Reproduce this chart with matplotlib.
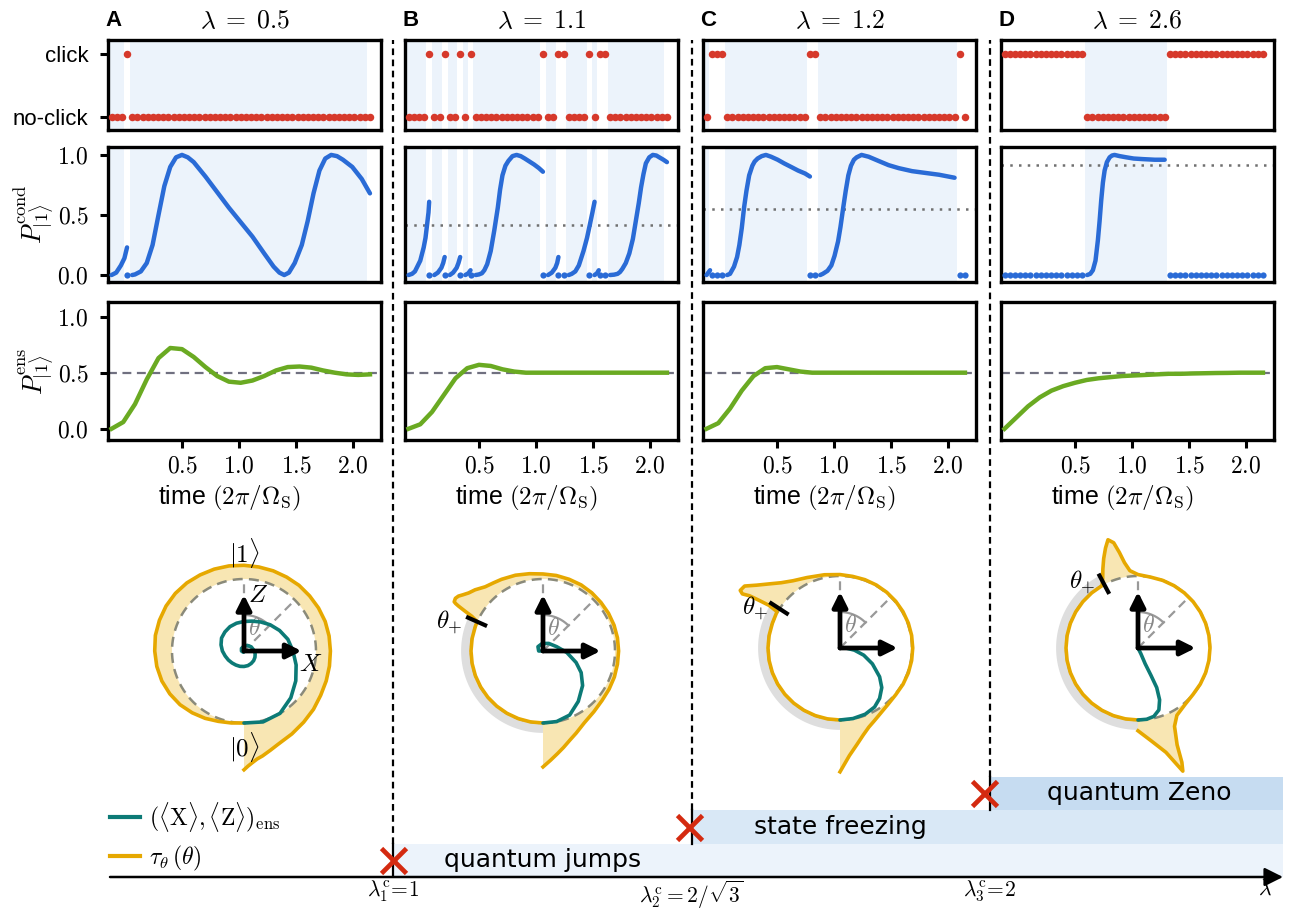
import matplotlib
matplotlib.use("Agg")
import matplotlib.pyplot as plt
import numpy as np

plt.rcParams["mathtext.fontset"] = "cm"
plt.rcParams["font.family"] = ["Liberation Sans", "DejaVu Sans"]

W, H = 1293, 909

# ---------------- data ----------------
letters = ["A", "B", "C", "D"]
lam_titles = [r"$\lambda\;=\;0.5$", r"$\lambda\;=\;1.1$", r"$\lambda\;=\;1.2$",
              r"$\lambda\;=\;2.6$"]

# measurement record: time of the first step, step length, number of steps
t_start = -0.118
dt = 0.04535
n_steps = 51

# indices of the time steps with a click
clicks_A = [3]
clicks_B = [4, 7, 10, 12, 26, 29, 30, 35, 37, 38]
clicks_C = [1, 2, 3, 20, 21, 49]
click_runs_D = [(0, 15), (32, 50)]

# conditional probability, one (t, p) list per no-click stretch
cond_A = [
    ([-0.118, -0.077, -0.036, -0.005, 0.018], [0.0, 0.02, 0.08, 0.14, 0.23]),
    ([0.063, 0.088, 0.139, 0.191, 0.242, 0.294, 0.345, 0.397, 0.448, 0.5, 0.551, 0.603,
      0.706, 0.809, 0.912, 1.015, 1.118, 1.221, 1.304, 1.355, 1.397, 1.438, 1.489, 1.551,
      1.603, 1.654, 1.706, 1.757, 1.809, 1.86, 1.912, 1.994, 2.077, 2.149],
     [0.0, 0.005, 0.03, 0.1, 0.25, 0.5, 0.74, 0.9, 0.98, 1.0, 0.98, 0.94, 0.82, 0.69,
      0.56, 0.44, 0.32, 0.18, 0.07, 0.02, 0.0, 0.02, 0.1, 0.25, 0.45, 0.68, 0.87, 0.97,
      1.0, 0.99, 0.96, 0.9, 0.8, 0.68]),
]
cond_B = [
    ([-0.118, -0.087, -0.062, -0.041, -0.015, 0.015, 0.031, 0.046, 0.057, 0.063],
     [0.0, 0.01, 0.03, 0.07, 0.12, 0.23, 0.31, 0.43, 0.52, 0.61]),
    ([0.108, 0.139, 0.17, 0.186, 0.199], [0.0, 0.02, 0.06, 0.1, 0.15]),
    ([0.244, 0.273, 0.304, 0.32, 0.335], [0.0, 0.02, 0.06, 0.1, 0.15]),
    ([0.38, 0.407, 0.426], [0.0, 0.015, 0.04]),
    ([0.471, 0.5, 0.526, 0.547, 0.572, 0.603, 0.634, 0.665, 0.685, 0.706, 0.732, 0.758,
      0.794, 0.83, 0.866, 0.902, 0.943, 0.984, 1.026, 1.061],
     [0.0, 0.005, 0.015, 0.04, 0.09, 0.2, 0.37, 0.56, 0.71, 0.83, 0.91, 0.95, 0.99, 1.0,
      0.99, 0.97, 0.945, 0.92, 0.89, 0.86]),
    ([1.106, 1.139, 1.17, 1.186, 1.197], [0.0, 0.02, 0.06, 0.1, 0.15]),
    ([1.287, 1.314, 1.345, 1.376, 1.417, 1.448, 1.475, 1.495, 1.514],
     [0.0, 0.01, 0.03, 0.08, 0.2, 0.31, 0.43, 0.52, 0.61]),
    ([1.514, 1.536, 1.551], [0.0, 0.015, 0.04]),
    ([1.65, 1.685, 1.716, 1.737, 1.757, 1.788, 1.819, 1.85, 1.876, 1.902, 1.922, 1.943,
      1.964, 1.994, 2.025, 2.056, 2.082, 2.118, 2.149],
     [0.0, 0.003, 0.01, 0.025, 0.05, 0.1, 0.18, 0.3, 0.45, 0.6, 0.73, 0.84, 0.93, 0.98,
      1.0, 0.995, 0.98, 0.96, 0.94]),
]
cond_C = [
    ([-0.118, -0.087], [0.0, 0.04]),
    ([0.063, 0.088, 0.123, 0.15, 0.17, 0.191, 0.211, 0.232, 0.256, 0.284, 0.304, 0.33,
      0.366, 0.403, 0.448, 0.506, 0.562, 0.624, 0.685, 0.747, 0.789],
     [0.0, 0.01, 0.07, 0.15, 0.25, 0.39, 0.56, 0.7, 0.83, 0.91, 0.945, 0.97, 0.99, 1.0,
      0.985, 0.96, 0.93, 0.9, 0.87, 0.845, 0.82]),
    ([0.879, 0.902, 0.943, 0.977, 1.005, 1.036, 1.057, 1.081, 1.103, 1.126, 1.149, 1.175,
      1.199, 1.242, 1.304, 1.391, 1.479, 1.568, 1.685, 1.803, 1.922, 2.058],
     [0.0, 0.01, 0.035, 0.08, 0.16, 0.28, 0.4, 0.56, 0.7, 0.83, 0.91, 0.96, 0.98, 1.0,
      0.985, 0.95, 0.915, 0.89, 0.865, 0.85, 0.835, 0.81]),
    ([2.149], [0.0]),
]
cond_D = [
    ([0.607, 0.634, 0.657, 0.68, 0.701, 0.716, 0.73, 0.745, 0.76, 0.78, 0.804, 0.825,
      0.847, 0.892, 0.951, 1.015, 1.098, 1.201, 1.287],
     [0.0, 0.01, 0.04, 0.12, 0.29, 0.45, 0.62, 0.77, 0.87, 0.94, 0.98, 0.995, 1.0, 0.99,
      0.98, 0.97, 0.965, 0.96, 0.96]),
]
cond_level = [None, 0.42, 0.55, 0.92]

# ensemble probability
ens_t = [-0.118, -0.015, 0.088, 0.191, 0.294, 0.397, 0.5, 0.603, 0.706, 0.809, 0.912,
         1.015, 1.118, 1.221, 1.325, 1.428, 1.531, 1.634, 1.737, 1.84, 1.943, 2.046, 2.149]
ens_A = [0.0, 0.06, 0.22, 0.44, 0.63, 0.72, 0.71, 0.64, 0.55, 0.47, 0.42, 0.41, 0.43,
         0.47, 0.52, 0.55, 0.555, 0.545, 0.52, 0.5, 0.485, 0.48, 0.485]
ens_B = [0.0, 0.04, 0.15, 0.3, 0.45, 0.54, 0.57, 0.56, 0.53, 0.51, 0.5, 0.5, 0.5, 0.5,
         0.5, 0.5, 0.5, 0.5, 0.5, 0.5, 0.5, 0.5, 0.5]
ens_C = [0.0, 0.05, 0.18, 0.34, 0.47, 0.54, 0.55, 0.53, 0.51, 0.5, 0.5, 0.5, 0.5, 0.5,
         0.5, 0.5, 0.5, 0.5, 0.5, 0.5, 0.5, 0.5, 0.5]
ens_D = [0.0, 0.1, 0.2, 0.28, 0.34, 0.38, 0.41, 0.435, 0.45, 0.46, 0.47, 0.475, 0.48,
         0.485, 0.49, 0.49, 0.493, 0.495, 0.497, 0.498, 0.5, 0.5, 0.5]

# Bloch diagrams: tau_theta curve as (angle from Z in degrees, radius)
tau_A = ([-180, -170, -160, -150, -140, -130, -120, -110, -100, -90, -80, -70, -60, -50,
          -40, -30, -20, -10, 0, 10, 20, 30, 40, 50, 60, 70, 80, 90, 100, 110, 120, 130,
          140, 150, 160, 165, 170, 173, 176, 178, 180],
         [1.0, 1.015, 1.04, 1.08, 1.12, 1.16, 1.19, 1.215, 1.23, 1.24, 1.25, 1.25, 1.25,
          1.245, 1.235, 1.22, 1.21, 1.2, 1.19, 1.185, 1.185, 1.185, 1.19, 1.19, 1.195, 1.2,
          1.2, 1.2, 1.205, 1.215, 1.23, 1.26, 1.29, 1.33, 1.38, 1.425, 1.48, 1.51, 1.56,
          1.6, 1.65])
tau_B = ([-180, -170, -160, -150, -140, -130, -120, -110, -100, -90, -80, -70, -66, -64,
          -63, -62, -61.5, -61, -59, -57, -55, -52, -48, -42, -36, -30, -20, -10, 0, 10,
          20, 30, 40, 50, 60, 70, 80, 90, 100, 110, 120, 130, 140, 150, 158, 163, 168, 172,
          176, 180],
         [1.0, 1.0, 1.0, 1.0, 1.0, 1.0, 1.0, 1.0, 1.0, 1.0, 1.0, 1.0, 1.0, 1.1, 1.21, 1.33,
          1.38, 1.41, 1.42, 1.4, 1.36, 1.31, 1.27, 1.2, 1.17, 1.15, 1.12, 1.09, 1.07,
          1.065, 1.06, 1.06, 1.055, 1.05, 1.05, 1.05, 1.05, 1.05, 1.05, 1.055, 1.06, 1.07,
          1.1, 1.15, 1.23, 1.29, 1.37, 1.44, 1.52, 1.61])
tau_C = ([-180, -170, -160, -150, -140, -130, -120, -110, -100, -90, -80, -70, -60, -59,
          -59.5, -60, -61, -60, -57, -53, -48, -42, -35, -25, -12, 0, 10, 20, 30, 40, 50,
          60, 70, 80, 90, 100, 110, 120, 130, 140, 145, 150, 155, 160, 165, 170, 175, 180],
         [1.0, 1.0, 1.0, 1.0, 1.0, 1.0, 1.0, 1.0, 1.0, 1.0, 1.0, 1.0, 1.01, 1.15, 1.3,
          1.45, 1.55, 1.6, 1.58, 1.45, 1.33, 1.22, 1.14, 1.08, 1.04, 1.02, 1.01, 1.01,
          1.01, 1.01, 1.01, 1.01, 1.01, 1.01, 1.01, 1.01, 1.01, 1.01, 1.01, 1.03, 1.05,
          1.08, 1.12, 1.17, 1.25, 1.36, 1.5, 1.72])
tau_D = ([-180, -170, -160, -150, -140, -130, -120, -110, -100, -90, -80, -70, -60, -50,
          -40, -30, -27, -24, -21, -18, -15.5, -13, -11, -9, -6, 0, 10, 20, 30, 40, 50, 60,
          70, 80, 90, 100, 110, 120, 130, 140, 150, 155, 158, 159, 160, 165, 172, 180],
         [1.0, 1.0, 1.0, 1.0, 1.0, 1.0, 1.0, 1.0, 1.0, 1.0, 1.0, 1.0, 1.0, 1.0, 1.0, 1.0,
          1.08, 1.2, 1.33, 1.46, 1.56, 1.5, 1.35, 1.2, 1.08, 1.02, 1.0, 1.0, 1.0, 1.0, 1.0,
          1.0, 1.0, 1.0, 1.0, 1.0, 1.0, 1.0, 1.0, 1.02, 1.08, 1.2, 1.45, 1.7, 1.82, 1.5,
          1.3, 1.15])
theta_plus = [None, -66, -57, -28]
theta_plus_label = [None, (-73, 1.36), (-65, 1.3), (-40, 1.2)]

# ensemble trajectory (<X>, <Z>)
traj_A = ([0.0, 0.264, 0.5, 0.65, 0.719, 0.724, 0.68, 0.609, 0.494, 0.364, 0.233, 0.111,
           0.0, -0.104, -0.195, -0.265, -0.312, -0.319, -0.3, -0.261, -0.217, -0.166,
           -0.113, -0.057, 0.0, 0.054, 0.1, 0.134, 0.152, 0.155, 0.145, 0.1, 0.045, 0.0,
           -0.035, -0.035, -0.01, 0.0],
          [-1.0, -0.985, -0.866, -0.65, -0.415, -0.194, 0.0, 0.163, 0.285, 0.364, 0.403,
           0.415, 0.41, 0.386, 0.338, 0.265, 0.18, 0.085, 0.0, -0.07, -0.125, -0.166,
           -0.195, -0.213, -0.215, -0.203, -0.173, -0.134, -0.088, -0.041, 0.0, 0.058,
           0.078, 0.07, 0.035, 0.0, -0.017, 0.0])
traj_B = ([0.0, 0.19, 0.37, 0.49, 0.55, 0.53, 0.46, 0.33, 0.19, 0.08, -0.01, -0.07, -0.06,
           0.0],
          [-1.0, -0.98, -0.89, -0.7, -0.48, -0.3, -0.16, -0.02, 0.06, 0.105, 0.105, 0.06, 0.0,
           0.0])
traj_C = ([0.0, 0.18, 0.35, 0.48, 0.55, 0.58, 0.55, 0.45, 0.33, 0.2, 0.08, 0.0],
          [-1.0, -0.98, -0.92, -0.82, -0.7, -0.55, -0.4, -0.22, -0.1, -0.03, 0.0, 0.0])
traj_D = ([0.0, 0.12, 0.22, 0.29, 0.3, 0.26, 0.18, 0.1, 0.04, 0.0],
          [-1.0, -0.99, -0.95, -0.86, -0.72, -0.55, -0.38, -0.22, -0.08, 0.0])

# regime diagram
regime_pos = [1, 2, 3]
regime_names = ["quantum jumps", "state freezing", "quantum Zeno"]
regime_ticks = [r"$\lambda^{\rm c}_1\!=\!1$", r"$\lambda^{\rm c}_2 = 2/\sqrt{3}$",
                r"$\lambda^{\rm c}_3\!=\!2$", r"$\lambda$"]
regime_colors = ["#ecf3fb", "#d9e8f6", "#c6dcf1"]

# ---------------- style ----------------
RED = "#d6392b"
BLUE = "#2a6bd6"
GREEN = "#6aaa22"
TEAL = "#0c7a76"
ORANGE = "#e6a800"
FILL = "#f8e6b3"
SHADE = "#ecf3fb"

col_left = [108, 405, 703, 1001]
AX_W = 273
xlim = (-0.149, 2.246)

fig = plt.figure(figsize=(W / 100, H / 100), dpi=100)


def box(l, t, w, h):
    return [l / W, 1 - (t + h) / H, w / W, h / H]


def style_axes(ax):
    for s in ax.spines.values():
        s.set_linewidth(2.4)
    ax.tick_params(width=2.2, length=6, labelsize=17, pad=5)
    ax.tick_params(axis="y", pad=8)


def no_click_runs(click_idx):
    runs, start = [], None
    for i in range(n_steps):
        if i in click_idx:
            if start is not None:
                runs.append((start, i - 1))
                start = None
        elif start is None:
            start = i
    if start is not None:
        runs.append((start, n_steps - 1))
    return runs


def shade_runs(ax, runs):
    for a, b in runs:
        hi = t_grid[b] + 0.45 * dt if b < n_steps - 1 else t_grid[b] - 0.5 * dt
        if hi > t_grid[a] - 0.45 * dt:
            ax.axvspan(t_grid[a] - 0.45 * dt, hi, color=SHADE, lw=0, zorder=0)


t_grid = t_start + np.arange(n_steps) * dt
clicks_D = [i for a, b in click_runs_D for i in range(a, b + 1)]
all_clicks = [clicks_A, clicks_B, clicks_C, clicks_D]
all_cond = [cond_A, cond_B, cond_C, cond_D]
all_ens = [ens_A, ens_B, ens_C, ens_D]
num_labels = [r"$0.0$", r"$0.5$", r"$1.0$"]

for k in range(4):
    L = col_left[k]
    clk = set(all_clicks[k])
    runs = no_click_runs(clk)

    # --- click record
    ax1 = fig.add_axes(box(L, 40, AX_W, 90))
    style_axes(ax1)
    shade_runs(ax1, runs)
    yv = [1 if i in clk else 0 for i in range(n_steps)]
    ax1.plot(t_grid, yv, "o", color=RED, ms=5.4, mec="none", zorder=3)
    ax1.set_xlim(*xlim)
    ax1.set_ylim(-0.2, 1.22)
    ax1.set_xticks([])
    if k == 0:
        ax1.set_yticks([0, 1])
        ax1.set_yticklabels(["no-click", "click"], fontsize=16)
    else:
        ax1.set_yticks([])
    ax1.text(-0.01, 1.1, letters[k], transform=ax1.transAxes, fontsize=16,
             fontweight="bold", va="bottom", ha="left")
    ax1.text(0.5, 1.08, lam_titles[k], transform=ax1.transAxes, fontsize=18.5,
             ha="center", va="bottom")

    # --- conditional probability
    ax2 = fig.add_axes(box(L, 147, AX_W, 135))
    style_axes(ax2)
    shade_runs(ax2, runs)
    for ts, ps in all_cond[k]:
        if len(ts) == 1:
            ax2.plot(ts, ps, "o", color=BLUE, ms=4.5, mec="none", zorder=3)
        else:
            ax2.plot(ts, ps, color=BLUE, lw=3.2, solid_capstyle="round",
                     solid_joinstyle="round", zorder=3)
    ci = sorted(clk)
    if ci:
        ax2.plot(t_grid[ci], np.zeros(len(ci)), "o", color=BLUE, ms=4.5, mec="none", zorder=3)
    if cond_level[k] is not None:
        ax2.axhline(cond_level[k], color="#707070", lw=1.8, ls=(0, (1, 2.5)), zorder=2)
    ax2.set_xlim(*xlim)
    ax2.set_ylim(-0.058, 1.066)
    ax2.set_xticks([])
    if k == 0:
        ax2.set_yticks([0, 0.5, 1.0])
        ax2.set_yticklabels(num_labels)
        ax2.set_ylabel(r"$P^{\rm cond}_{|1\rangle}$", fontsize=19, labelpad=0)
    else:
        ax2.set_yticks([])

    # --- ensemble probability
    ax3 = fig.add_axes(box(L, 302, AX_W, 138))
    style_axes(ax3)
    ax3.plot(ens_t, all_ens[k], color=GREEN, lw=3.2, zorder=3)
    ax3.axhline(0.5, color="#707080", lw=1.6, ls=(0, (4, 2.5)), zorder=2)
    ax3.set_xlim(*xlim)
    ax3.set_ylim(-0.1, 1.13)
    ax3.set_xticks([0.5, 1.0, 1.5, 2.0])
    ax3.set_xticklabels([r"$0.5$", r"$1.0$", r"$1.5$", r"$2.0$"])
    ax3.set_xlabel(r"time $(2\pi/\Omega_{\rm S})$", fontsize=18, labelpad=5, x=0.445)
    if k == 0:
        ax3.set_yticks([0, 0.5, 1.0])
        ax3.set_yticklabels(num_labels)
        ax3.set_ylabel(r"$P^{\rm ens}_{|1\rangle}$", fontsize=19, labelpad=0)
    else:
        ax3.tick_params(axis="y", left=False, labelleft=False)

# ---------------- Bloch diagrams ----------------
R_PX = 72.0
bloch_centers = [(244, 651), (543, 651), (840, 648), (1138, 648)]
all_tau = [tau_A, tau_B, tau_C, tau_D]
all_traj = [traj_A, traj_B, traj_C, traj_D]
S = 140
for k in range(4):
    cx, cy = bloch_centers[k]
    ax = fig.add_axes(box(cx - S, cy - S, 2 * S, 2 * S))
    ax.set_xlim(-S / R_PX, S / R_PX)
    ax.set_ylim(-S / R_PX, S / R_PX)
    ax.set_aspect("equal")
    ax.axis("off")

    ph = np.deg2rad(all_tau[k][0])
    r = np.array(all_tau[k][1])
    ox, oz = r * np.sin(ph), r * np.cos(ph)
    circ = np.deg2rad(np.linspace(180, -180, 361))
    ax.fill(np.concatenate([ox, np.sin(circ)]), np.concatenate([oz, np.cos(circ)]),
            color=FILL, lw=0, zorder=1)
    if theta_plus[k] is not None:
        arc = np.deg2rad(np.linspace(-180, theta_plus[k], 100))
        ax.plot(1.07 * np.sin(arc), 1.07 * np.cos(arc), color="#dedede", lw=7,
                solid_capstyle="butt", zorder=0.5)
    dash = (0, (4, 2.5))
    ax.plot(np.sin(circ), np.cos(circ), color="#8a8a7a", lw=1.8, ls=dash, zorder=2)
    ax.plot([0, 0], [0, 1], color="#999999", lw=1.6, ls=dash, zorder=2)
    ax.plot([0, np.sin(np.pi / 4)], [0, np.cos(np.pi / 4)], color="#999999", lw=1.6,
            ls=dash, zorder=2)
    a_arc = np.deg2rad(np.linspace(0, 45, 30))
    ax.plot(0.5 * np.sin(a_arc), 0.5 * np.cos(a_arc), color="#999999", lw=1.6, zorder=2)
    ax.text(0.14, 0.3, r"$\theta$", color="#888888", fontsize=17, ha="center", va="center",
            zorder=2)
    ax.plot(ox, oz, color=ORANGE, lw=2.6, zorder=3, solid_joinstyle="round")
    tx, tz = all_traj[k]
    ax.plot(tx, tz, color=TEAL, lw=2.6, zorder=4, solid_capstyle="round",
            solid_joinstyle="round")
    for dx, dz in [(0, 0.78), (0.8, 0)]:
        ax.annotate("", xy=(dx, dz), xytext=(0, 0),
                    arrowprops=dict(arrowstyle="-|>", lw=3.4, color="k", mutation_scale=22,
                                    shrinkA=0, shrinkB=0), zorder=5)
    if theta_plus[k] is not None:
        tp = np.deg2rad(theta_plus[k])
        ax.plot([0.88 * np.sin(tp), 1.14 * np.sin(tp)], [0.88 * np.cos(tp), 1.14 * np.cos(tp)],
                color="k", lw=3, zorder=5)
        la, lr = theta_plus_label[k]
        la = np.deg2rad(la)
        ax.text(lr * np.sin(la), lr * np.cos(la), r"$\theta_{+}$", fontsize=18,
                ha="center", va="center", zorder=6)
    if k == 0:
        ax.text(0.0, 1.36, r"$|1\rangle$", fontsize=18, ha="center", va="center")
        ax.text(0.0, -1.33, r"$|0\rangle$", fontsize=18, ha="center", va="center")
        ax.text(0.2, 0.78, r"$Z$", fontsize=18, ha="center", va="center", zorder=6)
        ax.text(0.92, -0.18, r"$X$", fontsize=18, ha="center", va="center", zorder=6)

# ---------------- regime axis ----------------
PX_PER = 298.5
y_px = 33.5
axr = fig.add_axes(box(108, 30, 1290 - 108, 877 - 30), facecolor="none")
axr.set_xlim(1 - 285 / PX_PER, 3 + 300 / PX_PER)
axr.set_ylim(0, (877 - 30) / y_px)
axr.set_zorder(-1)
for s in axr.spines.values():
    s.set_visible(False)
x_end = 3 + 293 / PX_PER
top = (877 - 40) / y_px
for lev, (p, name, col) in enumerate(zip(regime_pos, regime_names, regime_colors)):
    axr.barh(lev + 0.5, x_end - p, left=p, height=1.0, color=col, lw=0, zorder=1)
    axr.text(p + 0.5, lev + 0.5, name, fontsize=18, ha="center", va="center",
             family="DejaVu Sans", zorder=3)
    axr.plot([p, p], [lev, lev + 1], color="k", lw=1.6, zorder=2)
    axr.plot([p, p], [lev + 1, top], color="k", lw=1.6, ls=(0, (3, 2)), zorder=2)
    axr.plot(p - 0.01 * lev, lev + 0.5, "x", color="#d42a10", ms=18, mew=3.4, zorder=4)
axr.annotate("", xy=(x_end, 0), xytext=(1 - 283 / PX_PER, 0),
             arrowprops=dict(arrowstyle="-|>", lw=1.8, color="k", mutation_scale=28,
                             shrinkA=0, shrinkB=0), zorder=5)
axr.set_xticks(regime_pos + [3 + 275 / PX_PER])
axr.set_xticklabels(regime_ticks, fontsize=15.5)
axr.tick_params(axis="x", length=0, pad=1)
axr.set_yticks([])

hl = [plt.Line2D([], [], color=TEAL, lw=3), plt.Line2D([], [], color=ORANGE, lw=3)]
axr.legend(hl, [r"$(\langle\mathrm{X}\rangle,\langle\mathrm{Z}\rangle)_{\rm ens}$",
                r"$\tau_\theta\,(\theta)$"],
           loc="lower left", bbox_to_anchor=(-0.008, -0.009), frameon=False, fontsize=17,
           handlelength=1.25, handletextpad=0.4, labelspacing=0.42, borderaxespad=0.1)

fig.savefig("out.png", dpi=100)
